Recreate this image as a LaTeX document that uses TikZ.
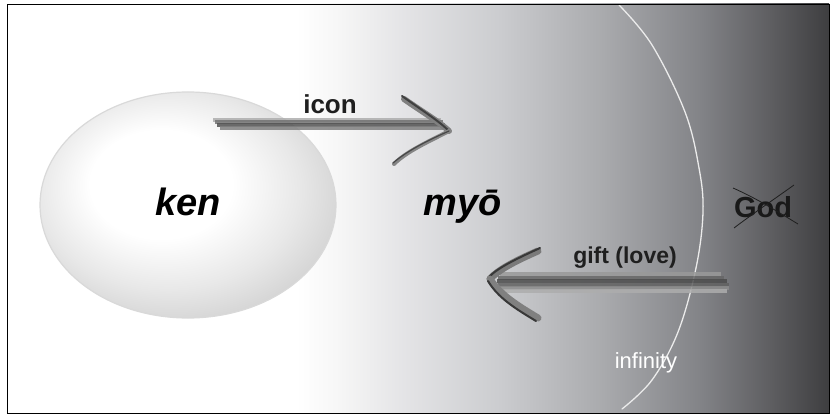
\documentclass[tikz,border=0pt]{standalone}
\usepackage{fontspec}
\setmainfont{Liberation Sans}
\usetikzlibrary{fadings,shapes.geometric}

\definecolor{bgA}{RGB}{246,246,246}
\definecolor{bgB}{RGB}{229,229,231}
\definecolor{bgC}{RGB}{203,204,207}
\definecolor{bgD}{RGB}{170,171,174}
\definecolor{bgE}{RGB}{130,131,135}
\definecolor{bgF}{RGB}{96,96,99}
\definecolor{bgG}{RGB}{62,62,64}

% backdrop: white on the left, darkening towards the right edge
\pgfdeclarehorizontalshading{backdrop}{100bp}{%
  color(0bp)=(white); color(42.6bp)=(white); color(45.25bp)=(bgA);
  color(48.9bp)=(bgB); color(55bp)=(bgC); color(61.1bp)=(bgD);
  color(67.2bp)=(bgE); color(71.2bp)=(bgF); color(75bp)=(bgG); color(100bp)=(bgG)}
% soft orb, brightest towards its upper left
\pgfdeclareradialshading{orb}{\pgfpoint{-6bp}{6bp}}{%
  color(0bp)=(white); color(12bp)=(white); color(22bp)=(black!9);
  color(31bp)=(black!19); color(50bp)=(black!19)}

\tikzfading[name=streakfade, left color=transparent!100,
  middle color=transparent!0, right color=transparent!100]

\tikzset{
  bigword/.style={font=\fontsize{38}{40}\selectfont\bfseries\itshape, anchor=base, inner sep=0pt},
  label/.style={font=\fontsize{#1}{#1}\selectfont\bfseries, anchor=base, inner sep=0pt, text=black!88},
  streak/.style={fill=black, path fading=streakfade, opacity=#1},
  band/.style={line width=4pt, line cap=butt, draw=black!#1, opacity=0.85},
  brush/.style={line width=#1, line cap=round, draw=black!55},
}

\begin{document}
\begin{tikzpicture}[x=1pt,y=-1pt]
\useasboundingbox (0,0) rectangle (835,417);
\fill[white] (0,0) rectangle (835,417);
\path[shading=backdrop] (7,4) rectangle (829,413);

% faint horizontal smears in the fading zone
\fill[streak=0.07] (350,42) rectangle (570,55);
\fill[streak=0.05] (370,70) rectangle (540,80);
\fill[streak=0.06] (335,138) rectangle (440,150);
\fill[streak=0.05] (340,330) rectangle (530,346);
\fill[streak=0.07] (320,378) rectangle (510,394);
\fill[streak=0.04] (420,230) rectangle (560,240);

% the boundary of infinity
\draw[black!8, line width=1.3pt, line cap=round]
  plot[smooth, tension=0.6] coordinates {(619,5) (652,45) (685,112) (699,168)
  (703,212) (696,268) (678,332) (652,380) (622,409)};

% ken orb
\node[ellipse, minimum width=296pt, minimum height=226pt, inner sep=0pt,
      shading=orb, draw=black!15, line width=1.2pt] (orb) at (188,205) {};

% words
\node[bigword] (ken) at (188,215) {ken};
\node[bigword] (myo) at (463,215) {myō};
\node[label=26] (icon) at (330,114) {icon};
\node[label=23] (gift) at (625,263) {gift (love)};
\node[label=29, text=black!90] (god) at (763,217) {God};
\node[font=\fontsize{22}{22}\selectfont, anchor=base, inner sep=0pt, text=white] (inf) at (646,368) {infinity};

% God struck through
\draw[black!88, line width=0.8pt] ([shift={(-30,-29)}]god.base) .. controls ([shift={(-5,-18)}]god.base) and ([shift={(15,-5)}]god.base) .. ([shift={(35,7)}]god.base);
\draw[black!88, line width=0.8pt] ([shift={(31,-32)}]god.base) .. controls ([shift={(10,-17)}]god.base) and ([shift={(-12,-2)}]god.base) .. ([shift={(-29,11)}]god.base);

% icon arrow: from ken towards myo, a shaft of brushed bands
\coordinate (iconTail) at (213,118);
\coordinate (iconTip) at (449,131);
\draw[band=32] (iconTail) ++(0,2) -- (441,120);
\draw[band=55] (215,122.5) -- (443,122.5);
\draw[band=68] (217,125) -- (445,125);
\draw[band=50] (220,128) -- (443,128);
\draw[brush=6pt, draw=black!50] (404,99) .. controls (424,113) and (438,121) .. (iconTip);
\draw[brush=2pt, draw=black!75] (402,96) .. controls (423,111) and (439,121) .. (iconTip);
\draw[brush=4pt, draw=black!48] (iconTip) .. controls (430,141) and (407,151) .. (394,164);
\draw[brush=1.2pt, draw=black!72] (iconTip) .. controls (431,139) and (408,150) .. (393,163);

% gift arrow: from God back towards myo
\coordinate (giftTail) at (729,288);
\coordinate (giftTip) at (490,279);
\draw[band=40] (500,274) -- (721,274);
\draw[band=60] (498,277.5) -- (724,277.5);
\draw[band=70] (497,281) -- (727,281);
\draw[band=62] (498,284.5) -- (giftTail |- 0,284.5);
\draw[band=45] (500,288) -- (giftTail);
\draw[band=32] (503,291) -- (727,291);
\draw[brush=7pt, draw=black!52] (538,251) .. controls (515,261) and (498,270) .. (giftTip);
\draw[brush=2pt, draw=black!78] (540,248) .. controls (516,259) and (497,268) .. (488,278);
\draw[brush=7pt, draw=black!50] (giftTip) .. controls (500,295) and (518,306) .. (538,318);
\draw[brush=2pt, draw=black!78] (488,281) .. controls (498,298) and (516,309) .. (536,321);

% frame
\draw[black, line width=0.9pt] (7,4) rectangle (829,413);
\end{tikzpicture}
\end{document}
